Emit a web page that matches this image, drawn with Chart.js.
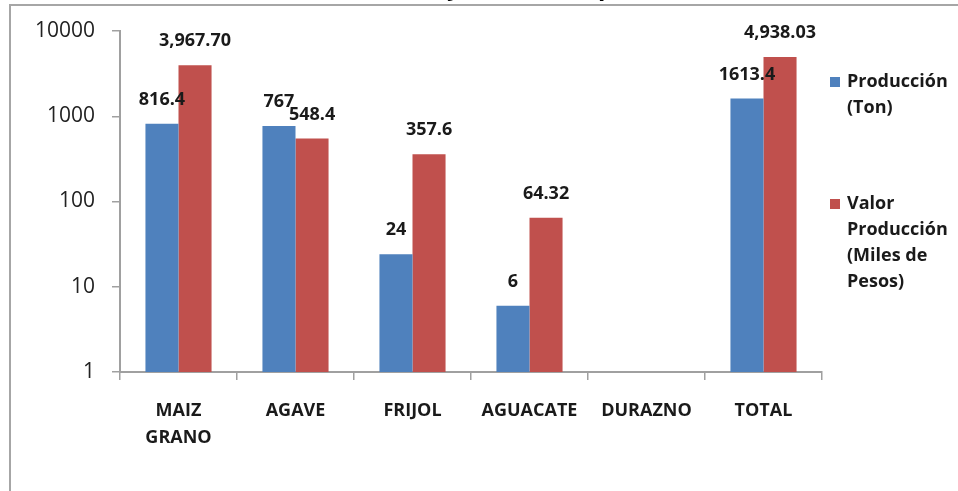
<!DOCTYPE html>
<html>
<head>
<meta charset="utf-8">
<script src="https://cdn.jsdelivr.net/npm/chart.js@4/dist/chart.umd.min.js"></script>
<style>
  body { margin: 0; background: #fff; }
  #wrap { width: 958px; height: 491px; position: relative; }
</style>
</head>
<body>
<div id="wrap"><canvas id="myChart"></canvas></div>
<script>
const categories = [["MAIZ", "GRANO"], "AGAVE", "FRIJOL", "AGUACATE", "DURAZNO", "TOTAL"];
const produccion = [816.4, 767, 24, 6, null, 1613.4];
const valor = [3967.7, 548.4, 357.6, 64.32, null, 4938.03];
const produccionText = ["816.4", "767", "24", "6", "", "1613.4"];
const valorText = ["3,967.70", "548.4", "357.6", "64.32", "", "4,938.03"];
const yTicks = [1, 10, 100, 1000, 10000];
const legendLines = [["Producción", "(Ton)"], ["Valor", "Producción", "(Miles de", "Pesos)"]];
const titleText = "Producción y valor de la producción";

const BOLD = "bold 18px 'Open Sans'";

const framePlugin = {
  id: "framePlugin",
  beforeDraw(chart) {
    const { ctx } = chart;
    ctx.save();
    ctx.strokeStyle = "#a6a6a6";
    ctx.lineWidth = 2;
    ctx.strokeRect(10, 5, 1000, 520);
    // title, cut off at the top of the picture
    ctx.fillStyle = "#000";
    ctx.font = "bold 24px 'Open Sans'";
    ctx.textBaseline = "alphabetic";
    ctx.textAlign = "left";
    const pre = ctx.measureText("Producción ").width;
    ctx.fillText(titleText, 447 - pre, -5);
    ctx.restore();
  },
};

const labelPlugin = {
  id: "labelPlugin",
  afterDatasetsDraw(chart) {
    const { ctx } = chart;
    const texts = [produccionText, valorText];
    ctx.save();
    ctx.fillStyle = "#1a1a1a";
    ctx.font = BOLD;
    ctx.textAlign = "center";
    ctx.textBaseline = "middle";
    chart.data.datasets.forEach((dataset, i) => {
      const meta = chart.getDatasetMeta(i);
      meta.data.forEach((el, index) => {
        if (dataset.data[index] == null) return;
        ctx.fillText(texts[i][index], el.x, el.y - 24);
      });
    });
    ctx.restore();
  },
};

const legendPlugin = {
  id: "legendPlugin",
  afterDraw(chart) {
    const { ctx, chartArea } = chart;
    const x = chartArea.right + 8;
    const starts = [chartArea.top + 51, chartArea.top + 173];
    ctx.save();
    ctx.font = BOLD;
    ctx.textBaseline = "middle";
    ctx.textAlign = "left";
    chart.data.datasets.forEach((ds, i) => {
      ctx.fillStyle = ds.backgroundColor;
      ctx.fillRect(x, starts[i] - 5, 10, 10);
      ctx.fillStyle = "#1a1a1a";
      legendLines[i].forEach((line, j) => {
        ctx.fillText(line, x + 17, starts[i] + j * 26);
      });
    });
    ctx.restore();
  },
};

const ctx = document.getElementById("myChart");
new Chart(ctx, {
  type: "bar",
  data: {
    labels: categories,
    datasets: [
      {
        label: "Producción (Ton)",
        data: produccion,
        backgroundColor: "#4f81bd",
        barPercentage: 1,
        categoryPercentage: 0.565,
      },
      {
        label: "Valor Producción (Miles de Pesos)",
        data: valor,
        backgroundColor: "#c0504d",
        barPercentage: 1,
        categoryPercentage: 0.565,
      },
    ],
  },
  options: {
    responsive: true,
    maintainAspectRatio: false,
    animation: false,
    layout: {
      padding: { top: 31, right: 136, left: 0, bottom: 0 },
    },
    plugins: {
      legend: { display: false },
      tooltip: { enabled: false },
      title: { display: false },
    },
    scales: {
      x: {
        afterFit(scale) {
          scale.height = 119;
        },
        grid: {
          offset: true,
          drawOnChartArea: false,
          tickLength: 8,
          color: "#a0a0a0",
          lineWidth: 1.5,
        },
        border: { color: "#a0a0a0", width: 2 },
        ticks: {
          color: "#1a1a1a",
          padding: 17,
          maxRotation: 0,
          autoSkip: false,
          font: { family: "'Open Sans'", size: 18, weight: "bold", lineHeight: 1.5 },
        },
      },
      y: {
        type: "logarithmic",
        min: 1,
        max: 10000,
        afterFit(scale) {
          scale.width = 120;
        },
        afterBuildTicks(scale) {
          scale.ticks = yTicks.map((v) => ({ value: v }));
        },
        grid: {
          drawOnChartArea: false,
          tickLength: 8,
          color: "#a0a0a0",
          lineWidth: 1.5,
        },
        border: { color: "#a0a0a0", width: 2 },
        ticks: {
          color: "#222",
          padding: 17,
          font: { family: "'Open Sans'", size: 21 },
          callback: (value) => String(value),
        },
      },
    },
  },
  plugins: [framePlugin, labelPlugin, legendPlugin],
});
</script>
</body>
</html>
